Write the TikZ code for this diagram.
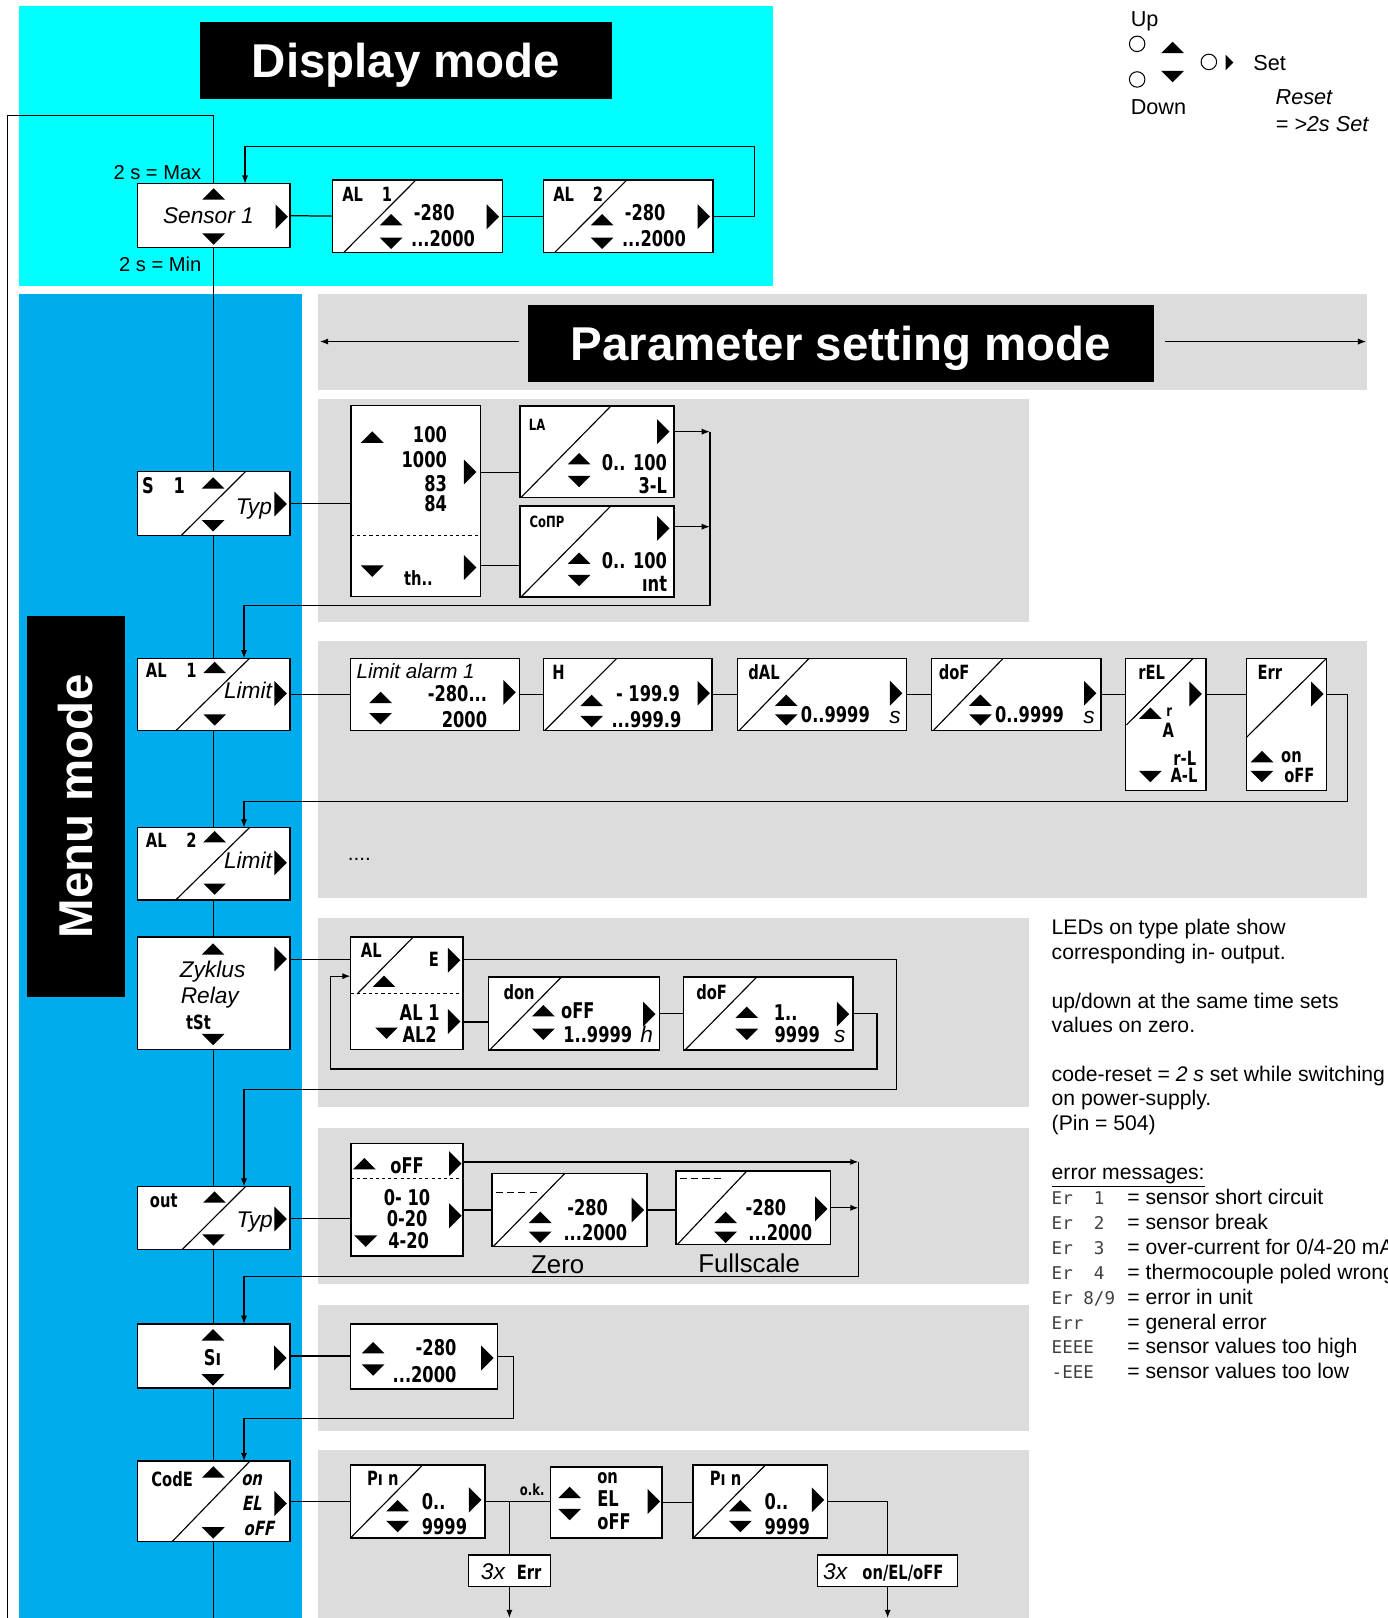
\documentclass[tikz,border=0pt]{standalone}
\usepackage{fontspec}
\setmainfont{Liberation Sans}
\newfontfamily\segf[FakeStretch=0.75]{DejaVu Sans}
\newfontfamily\segif[FakeStretch=0.75,FakeSlant=0.2]{DejaVu Sans}
\newfontfamily\segm{DejaVu Sans Mono}
\usetikzlibrary{arrows.meta}
\pgfdeclarelayer{back}
\pgfdeclarelayer{mid}
\pgfsetlayers{back,mid,main}
\definecolor{cyanbg}{RGB}{0,255,255}
\definecolor{bluebg}{RGB}{0,172,236}
\definecolor{graybg}{RGB}{220,220,220}
\newcommand\bxn[5]{\node[bx, minimum width={#4-#2}, minimum height={#5-#3}] (#1) at ({(#2+#4)/2},{(#3+#5)/2}) {};}
\newcommand\diagl[4]{\draw[dline] (#1,#2) -- (#3,#4);}
\tikzset{
  bx/.style={draw=black, line width=1.4pt, fill=white, inner sep=0pt, outer sep=0pt},
  ln/.style={line width=1.2pt},
  dline/.style={line width=1.1pt},
  arr/.style={line width=1.2pt, -{Latex[length=8pt,width=6pt]}},
  sg/.style={font=\segf\bfseries\fontsize{21}{21}\selectfont, inner sep=0pt, text height=15.3pt, text depth=0pt},
  sgh/.style={font=\segf\bfseries\fontsize{19}{19}\selectfont, inner sep=0pt, text height=13.8pt, text depth=0pt},
  sgx/.style={font=\segf\bfseries\fontsize{15}{15}\selectfont, inner sep=0pt, text height=10.9pt, text depth=0pt},
  sgi/.style={font=\segif\bfseries\fontsize{19}{19}\selectfont, inner sep=0pt, text height=13.8pt, text depth=0pt},
  lab/.style={font=\itshape\fontsize{22}{22}\selectfont, inner sep=0pt, text height=15.8pt, text depth=0pt},
  big/.style={font=\fontsize{25}{25}\selectfont, inner sep=0pt, text height=18pt, text depth=0pt},
  leg/.style={font=\fontsize{21}{21}\selectfont, inner sep=0pt, anchor=base west},
  note/.style={font=\fontsize{20.5}{24}\selectfont, inner sep=0pt, anchor=base west},
  errc/.style={font=\segm\fontsize{17}{17}\selectfont, text=black!75, inner sep=0pt, anchor=base west},
  title/.style={fill=black, text=white, font=\bfseries\fontsize{46}{46}\selectfont, inner sep=0pt, text height=33pt, text depth=0pt},
  tu/.pic={\fill (-11,5.5) -- (11,5.5) -- (0,-5.5) -- cycle;},
  td/.pic={\fill (-11,-5.5) -- (11,-5.5) -- (0,5.5) -- cycle;},
  tr/.pic={\fill (-6,-12) -- (-6,12) -- (6,0) -- cycle;},
}
\begin{document}
\begin{tikzpicture}[x=1pt,y=-1pt]
\useasboundingbox (0,0) rectangle (1345,1568);
\clip (0,0) rectangle (1345,1568);
\begin{pgfonlayer}{back}
  \fill[cyanbg] (18,6) rectangle (749,277);
  \fill[bluebg] (18,285) rectangle (293,1568);
  \fill[graybg] (308,285) rectangle (1325,378);
  \fill[graybg] (308,387) rectangle (997,603);
  \fill[graybg] (308,621) rectangle (1325,870);
  \fill[graybg] (308,890) rectangle (997,1073);
  \fill[graybg] (308,1093) rectangle (997,1244);
  \fill[graybg] (308,1265) rectangle (997,1387);
  \fill[graybg] (308,1405) rectangle (997,1568);
\end{pgfonlayer}

% titles
\node[title, minimum width=399, minimum height=75] (dtitle) at (393.5,58.5) {Display mode};
\node[title, minimum width=606, minimum height=74] (ptitle) at (815,333) {Parameter setting mode};
\node[title, minimum width=369, minimum height=95, rotate=90] (mtitle) at (73.5,781.5) {Menu mode};

% legend
\node[leg] (lup) at (1095.6,25.8) {Up};
\draw[line width=1pt] (1102,42.5) circle[radius=7.5];
\draw[line width=1pt] (1102,77) circle[radius=7.5];
\draw[line width=1pt] (1171.5,60) circle[radius=7.5];
\pic at (1136.3,46) {tu};
\pic at (1136.3,74.2) {td};
\pic[scale=0.62] at (1191.5,60.5) {tr};
\node[leg] (lset) at (1214.5,68.5) {Set};
\node[leg] (ldown) at (1095.6,111.4) {Down};
\node[leg, font=\itshape\fontsize{21}{21}\selectfont] (lreset) at (1236,101.7) {Reset};
\node[leg, font=\itshape\fontsize{21}{21}\selectfont] (lreset2) at (1236,127) {= >2s Set};

% ---------- display mode ----------
\bxn{sen}{133}{178}{281}{240}
\pic at (207,188) {tu}; \pic at (207,231.6) {td}; \pic at (273,210) {tr};
\node[lab] (senT) at (202,209) {Sensor 1};
\node[font=\fontsize{19.5}{19.5}\selectfont, inner sep=0pt, anchor=base east] (smax) at (195.3,174.4) {2 s = Max};
\node[font=\fontsize{19.5}{19.5}\selectfont, inner sep=0pt, anchor=base east] (smin) at (195.3,263) {2 s = Min};

\bxn{aoa}{322}{174.4}{487}{244.5}
\diagl{333.3}{244.5}{403.1}{174.4}
\node[sgh] (aoaH1) at (341.8,188) {AL};
\node[sgh] (aoaH2) at (375,188) {1};
\pic at (379.1,212.9) {tu}; \pic at (379.1,235.8) {td}; \pic at (477.7,210) {tr};
\node[sg] (aoaV1) at (420.8,205.9) {-280};
\node[sg] (aoaV2) at (429.3,231.3) {...2000};

\bxn{aob}{526.6}{174.4}{691}{244.5}
\diagl{537.7}{244.5}{607.5}{174.4}
\node[sgh] (aobH1) at (546.2,188) {AL};
\node[sgh] (aobH2) at (579.4,188) {2};
\pic at (583.5,212.9) {tu}; \pic at (583.5,235.8) {td}; \pic at (682.1,210) {tr};
\node[sg] (aobV1) at (625.2,205.9) {-280};
\node[sg] (aobV2) at (633.7,231.3) {...2000};

% ---------- menu boxes ----------
\bxn{ms1}{133}{457}{281}{519}
\diagl{175.6}{519}{237.9}{457}
\node[sg] (ms1H1) at (143.5,470.3) {S};
\node[sg] (ms1H2) at (173.7,470.3) {1};
\pic at (206.5,468) {tu}; \pic at (206.5,509.5) {td}; \pic at (272,488.5) {tr};
\node[lab] (ms1T) at (246,490.6) {Typ};

\bxn{mal1}{133}{638}{281}{708}
\diagl{170.5}{708}{241.8}{638}
\node[sgh] (mal1H1) at (151.5,650) {AL};
\node[sgh] (mal1H2) at (185.6,650) {1};
\pic at (208,646.8) {tu}; \pic at (208,697.7) {td}; \pic at (272,672) {tr};
\node[lab] (mal1T) at (240.3,669.4) {Limit};

\bxn{mal2}{133}{802}{281}{872}
\diagl{170.5}{872}{241.8}{802}
\node[sgh] (mal2H1) at (151.5,814) {AL};
\node[sgh] (mal2H2) at (185.6,814) {2};
\pic at (208,810.8) {tu}; \pic at (208,861.7) {td}; \pic at (272,836) {tr};
\node[lab] (mal2T) at (240.3,833.4) {Limit};

\bxn{mzyk}{133}{908}{281}{1017}
\pic at (206.5,919.7) {tu}; \pic at (206.5,1007.4) {td}; \pic at (272,929.4) {tr};
\node[lab] (mzykT1) at (206,939.6) {Zyklus};
\node[lab] (mzykT2) at (203.3,964.6) {Relay};
\node[sgh] (mzykT3) at (192.4,990.8) {tSt};

\bxn{mout}{133}{1150}{281}{1211}
\diagl{176.5}{1211}{237.8}{1150}
\node[sgh, anchor=base] (moutH) at (158.7,1170.5) {out};
\pic at (207.8,1160) {tu}; \pic at (207,1201.6) {td}; \pic at (272,1181.4) {tr};
\node[lab] (moutT) at (246.8,1181.4) {Typ};

\bxn{msi}{133}{1283}{281}{1345}
\pic at (206.4,1293.6) {tu}; \pic at (206.4,1337.2) {td}; \pic at (271.7,1316) {tr};
\node[sg] (msiT) at (206,1316) {Sı};

\bxn{mcode}{133}{1416}{281}{1494}
\diagl{166.8}{1494}{242.2}{1416}
\node[sgh] (mcodeH) at (166.8,1433.3) {CodE};
\pic at (206.7,1426.4) {tu}; \pic at (206.7,1485.5) {td}; \pic at (272,1457) {tr};
\node[sgi, anchor=base] (mcodeA) at (243.9,1440) {on};
\node[sgi] (mcodeB) at (243.9,1456.7) {EL};
\node[sgi] (mcodeC) at (250.8,1481.4) {oFF};

% ---------- panel 1 ----------
\bxn{pa}{340}{393}{465.5}{578}
\draw[dashed, line width=1pt] (pa.west |- 0,519) -- (pa.east |- 0,519);
\node[sg, anchor=east] (paV1) at (433.3,421.5) {100};
\node[sg, anchor=east] (paV2) at (433.3,445) {1000};
\node[sg, anchor=east] (paV3) at (433.3,468.3) {83};
\node[sg, anchor=east] (paV4) at (433.3,488.4) {84};
\pic at (360.7,423.6) {tu}; \pic at (455.6,457.4) {tr};
\pic at (360.7,553.5) {td}; \pic at (455.6,550) {tr};
\node[sgh, anchor=base] (paV5) at (405.5,567) {th..};

\bxn{pla}{504}{393.5}{653}{482}
\diagl{505}{482}{592}{393.5}
\node[sgx] (plaH) at (520.5,411.8) {LA};
\pic at (642.8,418.3) {tr}; \pic at (561.2,444.5) {tu}; \pic at (561.2,466.7) {td};
\node[sg, anchor=east] (plaV1) at (646.6,448.2) {0.. 100};
\node[sg, anchor=east] (plaV2) at (646.6,470.8) {3-L};

\bxn{pcp}{504}{490.3}{653}{578.5}
\diagl{505}{578.5}{592}{490.3}
\node[sgx, anchor=west] (pcpH) at (513,505.5) {CoΠP};
\pic at (642.8,512) {tr}; \pic at (561.2,541) {tu}; \pic at (561.2,562.7) {td};
\node[sg, anchor=east] (pcpV1) at (646.6,542.8) {0.. 100};
\node[sg, anchor=base east] (pcpV2) at (646.6,573.3) {ınt};

% ---------- panel 2 ----------
\bxn{pla1}{339.6}{638}{503.3}{708}
\node[lab, font=\itshape\fontsize{20}{20}\selectfont, text height=14.3pt, anchor=west] (pla1T) at (345.4,650) {Limit alarm 1};
\pic at (368.8,675.9) {tu}; \pic at (368.8,696.5) {td}; \pic at (493.8,671) {tr};
\node[sg, anchor=east] (pla1V1) at (472.2,671.8) {-280...};
\node[sg, anchor=east] (pla1V2) at (472.2,697.2) {2000};

\bxn{phh}{526.5}{638}{690.2}{708}
\diagl{527.8}{708}{597.7}{638}
\node[sgh] (phhH) at (541.2,652) {H};
\pic at (573.4,678.8) {tu}; \pic at (573.4,699.3) {td}; \pic at (682,671.8) {tr};
\node[sg, anchor=west] (phhV1) at (596.8,672.5) {- 199.9};
\node[sg, anchor=west] (phhV2) at (592.4,697.2) {...999.9};

\bxn{pdal}{714.7}{638}{878.7}{708}
\diagl{716.3}{708}{784.1}{638}
\node[sgh] (pdalH) at (740.4,652) {dAL};
\pic at (762,678.6) {tu}; \pic at (762,697.7) {td}; \pic at (868.4,671.8) {tr};
\node[sg, anchor=west] (pdalV) at (776,692.8) {0..9999};
\node[lab, anchor=base] (pdalS) at (867.3,700.9) {s};

\bxn{pdof}{902.8}{638}{1066.9}{708}
\diagl{904.4}{708}{972.2}{638}
\node[sgh] (pdofH) at (924.6,652) {doF};
\pic at (950.1,678.6) {tu}; \pic at (950.1,697.7) {td}; \pic at (1056.5,671.8) {tr};
\node[sg, anchor=west] (pdofV) at (964.1,692.8) {0..9999};
\node[lab, anchor=base] (pdofS) at (1055.4,700.9) {s};

\bxn{prel}{1090.8}{638}{1168.6}{766.2}
\diagl{1091.7}{702.5}{1156.3}{638}
\node[sgh] (prelH) at (1116,652) {rEL};
\pic at (1158.7,672.6) {tr}; \pic at (1114.8,691.2) {tu}; \pic at (1114.8,752.6) {td};
\node[sgx, anchor=base] (prelA) at (1133,694) {r};
\node[sgh] (prelB) at (1132.1,708.2) {A};
\node[sgh, anchor=base] (prelC) at (1148.2,742) {r-L};
\node[sgh] (prelD) at (1147.4,751.2) {A-L};

\bxn{perr}{1208}{638}{1285.5}{766.2}
\diagl{1208}{714.5}{1285.5}{638}
\node[sgh, anchor=base] (perrH) at (1230.6,658.7) {Err};
\pic at (1276.7,672.6) {tr}; \pic at (1222.9,733.2) {tu}; \pic at (1222.9,752.6) {td};
\node[sgh, anchor=base] (perrA) at (1251.6,739) {on};
\node[sgh] (perrB) at (1259.2,751.7) {oFF};

\node[font=\fontsize{20}{20}\selectfont, inner sep=0pt, anchor=west] (pdots) at (337,833) {....};

% ---------- panel 3 ----------
\bxn{pale}{339.7}{908}{448.5}{1017}
\draw[dashed, line width=1pt] (pale.west |- 0,963.2) -- (pale.east |- 0,963.2);
\diagl{346.1}{963.2}{400.6}{908}
\node[sgh] (paleH) at (359.8,921.3) {AL};
\node[sgh] (paleE) at (420.4,930.2) {E};
\pic at (440.1,930.5) {tr}; \pic at (372.1,950.9) {tu};
\node[sg] (paleV1) at (406.7,981.1) {AL 1};
\node[sg] (paleV2) at (406.7,1002.6) {AL2};
\pic at (374.6,1001.3) {td}; \pic at (440.1,990) {tr};

\bxn{pdon}{473.2}{947}{638.9}{1017.4}
\diagl{474.7}{1017.4}{543.9}{947}
\node[sgh, anchor=base] (pdonH) at (503.1,968.4) {don};
\pic at (526.6,979.5) {tu}; \pic at (526.6,1002.4) {td}; \pic at (629.2,982.7) {tr};
\node[sg] (pdonV1) at (560,979.5) {oFF};
\node[sg] (pdonV2) at (579.3,1002.6) {1..9999};
\node[lab, anchor=base] (pdonU) at (626.7,1010.3) {h};

\bxn{pdf2}{662.6}{947}{826.7}{1017.4}
\diagl{664}{1017.4}{733.2}{947}
\node[sgh, anchor=base] (pdf2H) at (689.7,968.4) {doF};
\pic at (723.7,981) {tu}; \pic at (723.7,1002.4) {td}; \pic at (817,982.7) {tr};
\node[sg] (pdf2V1) at (761.4,981) {1..};
\node[sg] (pdf2V2) at (772.6,1002.6) {9999};
\node[lab, anchor=base] (pdf2U) at (813.9,1010.3) {s};

% ---------- panel 4 ----------
\bxn{ptyp}{340.2}{1108}{448.7}{1217}
\draw[dashed, line width=1pt] (ptyp.west |- 0,1141.8) -- (ptyp.east |- 0,1141.8);
\pic at (353.2,1127.7) {tu}; \pic at (441.3,1127.6) {tr};
\node[sg] (ptypV0) at (394.5,1129.7) {oFF};
\node[sg] (ptypV1) at (394.5,1160.4) {0- 10};
\node[sg] (ptypV2) at (394.5,1181.4) {0-20};
\node[sg] (ptypV3) at (396,1202.4) {4-20};
\pic at (354.4,1202.8) {td}; \pic at (441.3,1178.1) {tr};

\bxn{pzero}{477}{1137}{627}{1208}
\draw[line width=1.2pt, dash pattern=on 7pt off 4pt] (480.2,1155.7) -- (524.2,1155.7);
\diagl{478}{1208}{547.5}{1137}
\pic at (523.5,1179.7) {tu}; \pic at (523.5,1199.1) {td}; \pic at (618.2,1172.5) {tr};
\node[sg] (pzeroV1) at (569.5,1170) {-280};
\node[sg] (pzeroV2) at (577,1194.3) {...2000};
\node[big] (pzeroL) at (540.5,1224.7) {Zero};

\bxn{pfull}{655}{1135}{805}{1206}
\draw[line width=1.2pt, dash pattern=on 7pt off 4pt] (658.7,1141.8) -- (701.4,1141.8);
\diagl{656.4}{1206}{723.6}{1135}
\pic at (703.2,1179.7) {tu}; \pic at (703.2,1199.1) {td}; \pic at (796,1171.5) {tr};
\node[sg] (pfullV1) at (742.2,1170) {-280};
\node[sg] (pfullV2) at (756.1,1194.3) {...2000};
\node[big] (pfullL) at (726,1224) {Fullscale};

% ---------- panel 5 ----------
\bxn{psi}{339.8}{1283}{482}{1346}
\pic at (361.5,1306) {tu}; \pic at (361.5,1327.7) {td}; \pic at (472.3,1316) {tr};
\node[sg, anchor=east] (psiV1) at (442.5,1305.7) {-280};
\node[sg, anchor=east] (psiV2) at (442.5,1332) {...2000};

% ---------- panel 6 ----------
\bxn{ppin}{339.5}{1419.6}{469.8}{1490.6}
\diagl{339.5}{1490.6}{409.7}{1419.6}
\node[sgh, anchor=base] (ppinH) at (371,1439.5) {Pı n};
\pic at (385.3,1459.1) {tu}; \pic at (385.3,1479.3) {td}; \pic at (460.5,1453.5) {tr};
\node[sg, anchor=west] (ppinV1) at (408.6,1455) {0..};
\node[sg, anchor=west] (ppinV2) at (408.6,1479.6) {9999};

\bxn{poel}{533.5}{1421.8}{641.5}{1490.6}
\pic at (552,1446.2) {tu}; \pic at (552,1467.7) {td}; \pic at (633.7,1455) {tr};
\node[sgh, anchor=base west] (poelA) at (578.7,1437.3) {on};
\node[sg, anchor=west] (poelB) at (578.7,1451.9) {EL};
\node[sg, anchor=west] (poelC) at (578.7,1475) {oFF};

\bxn{ppin2}{671.7}{1419.6}{802}{1490.6}
\diagl{671.7}{1490.6}{741.9}{1419.6}
\node[sgh, anchor=base] (ppin2H) at (703.2,1439.5) {Pı n};
\pic at (717.5,1459.1) {tu}; \pic at (717.5,1479.3) {td}; \pic at (792.7,1453.5) {tr};
\node[sg, anchor=west] (ppin2V1) at (740.8,1455) {0..};
\node[sg, anchor=west] (ppin2V2) at (740.8,1479.6) {9999};

\bxn{perr3}{453.8}{1506.8}{533.5}{1537.5}
\node[lab, anchor=base] (perr3A) at (477.7,1531) {3x};
\node[sgh, anchor=base] (perr3B) at (512.8,1531) {Err};

\bxn{poel3}{792.4}{1506.8}{928}{1537.5}
\node[lab, anchor=base] (poel3A) at (809.4,1531) {3x};
\node[sgh, anchor=base] (poel3B) at (875,1531) {on/EL/oFF};

\node[sgx, anchor=base] (okl) at (515.7,1449) {o.k.};

% ---------- notes ----------
\node[note] (n1) at (1019,905.4) {LEDs on type plate show};
\node[note] (n2) at (1019,929.6) {corresponding in- output.};
\node[note] (n3) at (1019,977) {up/down at the same time sets};
\node[note] (n4) at (1019,1000.7) {values on zero.};
\node[note] (n5) at (1019,1048) {code-reset = \textit{2 s} set while switching};
\node[note] (n6) at (1019,1071.7) {on power-supply.};
\node[note] (n7) at (1019,1095.6) {(Pin = 504)};
\node[note] (n8) at (1019,1143.4) {\underline{error messages:}};
\node[errc] (e1c) at (1019,1167.6) {Er\ \ 1};
\node[errc] (e2c) at (1019,1191.7) {Er\ \ 2};
\node[errc] (e3c) at (1019,1215.8) {Er\ \ 3};
\node[errc] (e4c) at (1019,1239.8) {Er\ \ 4};
\node[errc] (e5c) at (1019,1263.9) {Er\ 8/9};
\node[errc] (e6c) at (1019,1288) {Err};
\node[errc] (e7c) at (1019,1312) {EEEE};
\node[errc] (e8c) at (1019,1336) {-EEE};
\node[note] (e1t) at (1092.4,1167.6) {= sensor short circuit};
\node[note] (e2t) at (1092.4,1191.7) {= sensor break};
\node[note] (e3t) at (1092.4,1215.8) {= over-current for 0/4-20 mA};
\node[note] (e4t) at (1092.4,1239.8) {= thermocouple poled wrong};
\node[note] (e5t) at (1092.4,1263.9) {= error in unit};
\node[note] (e6t) at (1092.4,1288) {= general error};
\node[note] (e7t) at (1092.4,1312) {= sensor values too high};
\node[note] (e8t) at (1092.4,1336) {= sensor values too low};

% ---------- connectors ----------
\coordinate (ot) at (7,112);
\coordinate (bot) at (7,1568);
\coordinate (dr) at (731,142);
\coordinate (paA) at (465.5,458);
\coordinate (paB) at (465.5,548);
\coordinate (laO) at (653,418.3);
\coordinate (cpO) at (653,510.4);
\coordinate (r1) at (688,587);
\coordinate (r2) at (1305.9,777);
\coordinate (r3) at (869,1056);
\coordinate (l1) at (850,1036);
\coordinate (l2) at (320,946);
\coordinate (r4) at (832,1237);
\coordinate (tA) at (448.7,1126);
\coordinate (r5) at (497.4,1374.5);
\coordinate (hL) at (310,331);
\coordinate (hR) at (1324,331);
\begin{pgfonlayer}{mid}
  % outer loop and spine
  \draw[ln] (bot) -- (ot) -| (sen.north);
  \draw[ln] (sen.south) -- (ms1.north);
  \draw[ln] (ms1.south) -- (mal1.north);
  \draw[ln] (mal1.south) -- (mal2.north);
  \draw[ln] (mal2.south) -- (mzyk.north);
  \draw[ln] (mzyk.south) -- (mout.north);
  \draw[ln] (mout.south) -- (msi.north);
  \draw[ln] (msi.south) -- (mcode.north);
  \draw[ln] (mcode.south) -- (mcode.south |- bot);
  % header arrows
  \draw[arr] (ptitle.west |- hL) ++(-9,0) -- (hL);
  \draw[arr] (ptitle.east |- hR) ++(11,0) -- (hR);
  % display
  \draw[ln] (sen.east) -- (aoa.west);
  \draw[ln] (aoa.east) -- (aob.west);
  \draw[arr] (aob.east) -| (dr) -| ([xshift=30.5pt]sen.north);
  % panel 1
  \draw[ln] (ms1.east) -- (ms1.east -| pa.west);
  \draw[ln] (paA) -- (paA -| pla.west);
  \draw[ln] (paB) -- (paB -| pcp.west);
  \draw[arr] (laO) -- (laO -| r1);
  \draw[arr] (cpO) -- (cpO -| r1);
  \draw[arr] (laO -| r1) -- (r1) -| ([xshift=29.5pt]mal1.north);
  % panel 2
  \draw[ln] (mal1.east) -- (pla1.west);
  \draw[ln] (pla1.east) -- (phh.west);
  \draw[ln] (phh.east) -- (pdal.west);
  \draw[ln] (pdal.east) -- (pdof.west);
  \draw[ln] (pdof.east) -- (pdof.east -| prel.west);
  \draw[ln] (prel.east |- pdof.east) -- (perr.west |- pdof.east);
  \draw[arr] (perr.east |- pdof.east) -| (r2) -| ([xshift=29.5pt]mal2.north);
  % panel 3
  \draw[ln] ([yshift=32.5pt]mzyk.east) -- ([yshift=32.5pt]mzyk.east -| pale.west);
  \draw[arr] ([yshift=32.5pt]pale.east) -| (r3) -| ([xshift=29.5pt]mout.north);
  \draw[ln] ([yshift=-28pt]pale.east) -- ([yshift=-28pt]pale.east -| pdon.west);
  \draw[ln] (pdon.east) -- (pdf2.west);
  \draw[arr] (pdf2.east) -| (l1) -| (l2) -- (l2 -| pale.west);
  % panel 4
  \draw[ln] (mout.east) -- (mout.east -| ptyp.west);
  \draw[arr] (tA) -- (tA -| r4);
  \draw[ln] (ptyp.east |- pzero.west) -- (pzero.west);
  \draw[ln] (pzero.east) -- (pzero.east -| pfull.west);
  \draw[arr] (pfull.east) -- (pfull.east -| r4);
  \draw[arr] (tA -| r4) -- (r4) -| ([xshift=29.5pt]msi.north);
  % panel 5
  \draw[ln] (msi.east) -- (msi.east -| psi.west);
  \draw[arr] (psi.east) -| (r5) -| ([xshift=29.5pt]mcode.north);
  % panel 6
  \draw[ln] (mcode.east) -- (mcode.east -| ppin.west);
  \draw[ln] (ppin.east) -- (ppin.east -| poel.west);
  \draw[ln] (ppin.east -| perr3.north) -- (perr3.north);
  \draw[arr] (perr3.south) -- (perr3.south |- bot);
  \draw[ln] (poel.east) -- (poel.east -| ppin2.west);
  \draw[ln] (ppin2.east) -| (poel3.north);
  \draw[arr] (poel3.south) -- (poel3.south |- bot);
\end{pgfonlayer}
\end{tikzpicture}
\end{document}
